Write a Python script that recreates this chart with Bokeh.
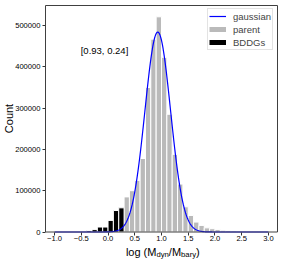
import numpy as np
from math import pi
from bokeh.plotting import figure
from bokeh.models import Range1d, FixedTicker, Label, Legend, LegendItem, BoxAnnotation
from bokeh.embed import file_html
from bokeh.resources import INLINE

# ---------------- data ----------------
bin_width = 0.1
parent_left_edges = [0.3, 0.4, 0.5, 0.6, 0.7, 0.8, 0.9, 1.0, 1.1, 1.2, 1.3, 1.4,
                     1.5, 1.6, 1.7, 1.8, 1.9, 2.0, 2.1, 2.2, 2.3, 2.4, 2.5, 2.6,
                     2.7, 2.8, 2.9]
parent_counts = [85000, 100000, 125000, 178000, 350000, 467000, 521000, 423000,
                 285000, 188000, 116000, 61000, 40000, 24000, 16000, 10000, 8000,
                 5900, 4200, 3300, 2500, 1800, 1300, 1000, 700, 500, 350]
bddg_left_edges = [-0.5, -0.4, -0.3, -0.2, -0.1, 0.0, 0.1, 0.2]
bddg_counts = [1500, 3500, 5800, 12000, 12000, 28000, 52000, 58500]
gauss_mu = 0.93
gauss_sigma = 0.24
gauss_amp = 484000
gauss_x_min, gauss_x_max = -1.0, 3.0
x_ticks = [-1.0, -0.5, 0.0, 0.5, 1.0, 1.5, 2.0, 2.5, 3.0]
x_tick_labels = ["\u22121.0", "\u22120.5", "0.0", "0.5", "1.0", "1.5", "2.0", "2.5", "3.0"]
y_ticks = [0, 100000, 200000, 300000, 400000, 500000]
y_tick_labels = ["0", "100000", "200000", "300000", "400000", "500000"]
legend_labels = ["gaussian", "parent", "BDDGs"]
axes_x_lim = (-1.17, 3.17)

# ---------------- layout ----------------
FONT = "Liberation Sans"
W, H = 283, 260
BOX_L, BOX_R = 45, 277         # plot box, canvas px
BOX_B, BOX_T = 231.5, 5
SY = 41.3 / 100000             # px per count
sx = (BOX_R - BOX_L) / (axes_x_lim[1] - axes_x_lim[0])
X0 = axes_x_lim[0] - BOX_L / sx
X1 = axes_x_lim[0] + (W - BOX_L) / sx
Y0 = -(H - BOX_B) / SY
Y1 = BOX_B / SY


def xd(px):
    return axes_x_lim[0] + (px - BOX_L) / sx


def yd(py):
    return (BOX_B - py) / SY


p = figure(width=W, height=H, output_backend="svg", toolbar_location=None,
           x_range=Range1d(X0, X1), y_range=Range1d(Y0, Y1),
           min_border_left=0, min_border_right=0, min_border_top=0,
           min_border_bottom=0)
p.background_fill_color = "white"
p.border_fill_color = "white"
p.outline_line_color = None
p.grid.visible = False

p.xaxis.fixed_location = 0
p.yaxis.fixed_location = axes_x_lim[0]
for ax in (p.xaxis, p.yaxis):
    ax.axis_line_color = None
    ax.major_tick_line_color = "#333333"
    ax.major_tick_out = 3
    ax.major_tick_in = 0
    ax.minor_tick_line_color = None
    ax.major_label_text_font = FONT
    ax.major_label_text_font_size = "7.6px"
    ax.major_label_text_color = "black"

p.xaxis.ticker = FixedTicker(ticks=x_ticks)
p.xaxis.major_label_overrides = {t: s for t, s in zip(x_ticks, x_tick_labels)}
p.xaxis.major_label_standoff = 1
p.yaxis.ticker = FixedTicker(ticks=y_ticks)
p.yaxis.major_label_overrides = {t: s for t, s in zip(y_ticks, y_tick_labels)}
p.yaxis.major_label_standoff = 2

# bars
parent_centers = [e + bin_width / 2 for e in parent_left_edges]
bddg_centers = [e + bin_width / 2 for e in bddg_left_edges]
p.vbar(x=parent_centers, top=parent_counts, width=bin_width, bottom=0,
       fill_color="#bababa", line_color="white", line_width=1)
p.vbar(x=bddg_centers, top=bddg_counts, width=bin_width, bottom=0,
       fill_color="black", line_color="white", line_width=1)

# gaussian model curve
gx = np.linspace(gauss_x_min, gauss_x_max, 401)
gy = gauss_amp * np.exp(-(gx - gauss_mu) ** 2 / (2 * gauss_sigma ** 2))
p.line(gx, gy, line_color="blue", line_width=1.2)

# plot box (axes spines)
p.add_layout(BoxAnnotation(left=axes_x_lim[0], right=axes_x_lim[1], bottom=0,
                           top=yd(BOX_T), fill_alpha=0, fill_color=None,
                           line_color="#404040", line_width=1, line_alpha=1,
                           level="overlay"))

# legend with proxy glyphs
lg = p.line([np.nan], [np.nan], line_color="blue", line_width=1.2)
lp = p.line([np.nan], [np.nan], line_color="#bababa", line_width=5)
lb = p.line([np.nan], [np.nan], line_color="black", line_width=5)
legend = Legend(items=[LegendItem(label=legend_labels[0], renderers=[lg]),
                       LegendItem(label=legend_labels[1], renderers=[lp]),
                       LegendItem(label=legend_labels[2], renderers=[lb])],
                location=(207, H - 50), glyph_width=17,
                glyph_height=12, label_height=12, spacing=1, padding=1,
                label_standoff=7, label_text_font=FONT,
                label_text_font_size="9.5px", border_line_color="#c8c8c8",
                border_line_width=1, background_fill_alpha=0.8, margin=0)
p.add_layout(legend)

# annotation of fit parameters
p.add_layout(Label(x=xd(104), y=yd(49.5), text=f"[{gauss_mu}, {gauss_sigma}]",
                   text_align="center", text_baseline="middle",
                   text_font=FONT, text_font_size="9.5px", text_color="black"))

# y axis label
p.add_layout(Label(x=xd(8.5), y=yd(118), text="Count", angle=pi / 2,
                   text_align="center", text_baseline="middle",
                   text_font=FONT, text_font_size="11px", text_color="black"))

# x axis label with subscripts
F, f = 11, 7.7
em = {"l": .222, "o": .556, "g": .556, " ": .278, "(": .333, "M": .833,
      "d": .556, "y": .5, "n": .556, "/": .278, "b": .556, "a": .556,
      "r": .333, ")": .333}
pieces = [("log (M", F, 0), ("dyn", f, 2), ("/M", F, 0), ("bary", f, 2), (")", F, 0)]
widths = [sum(em[c] for c in t) * s for t, s, _ in pieces]
total = sum(widths)
cx = 162.3
base = 251.5
xpos = cx - total / 2
for (t, s, drop), w in zip(pieces, widths):
    p.add_layout(Label(x=xd(xpos), y=yd(base + drop), text=t,
                       text_align="left", text_baseline="alphabetic",
                       text_font=FONT, text_font_size=f"{s}px", text_color="black"))
    xpos += w

open("out.html", "w").write(file_html(p, INLINE))
